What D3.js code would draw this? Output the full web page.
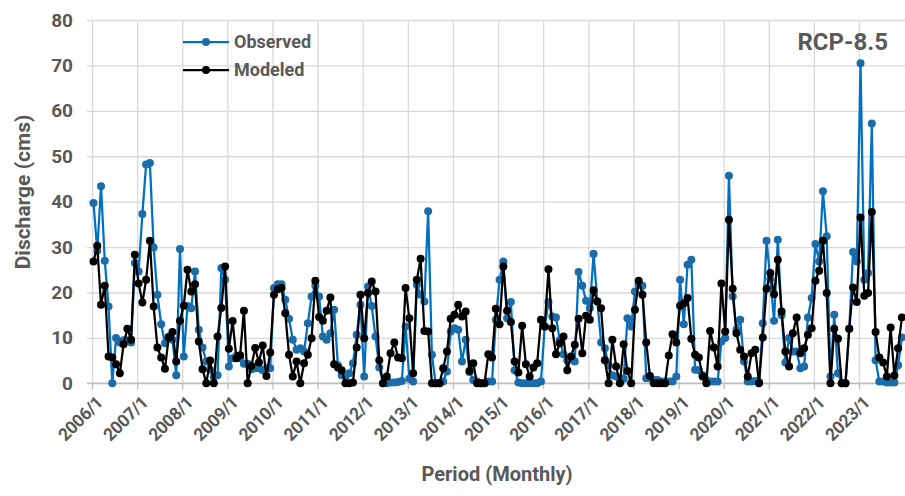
<!DOCTYPE html>
<html>
<head>
  <meta charset="utf-8">
  <title>Discharge RCP-8.5</title>
  <script src="https://cdn.jsdelivr.net/npm/d3@7"></script>
  <style>
    body { margin: 0; background: #fff; }
    text { font-family: "Roboto", "Liberation Sans", sans-serif; font-weight: bold; fill: #595959; }
  </style>
</head>
<body>
<svg id="chart"></svg>
<script>
// monthly values, one row per year 2006..2023
var observed = [
  39.7, 29.2, 43.4, 27, 16.9, 0, 10, 9, 9.5, 9.5, 9, 26.5,
  24.6, 37.3, 48.2, 48.5, 29.9, 19.5, 13, 8.8, 10.3, 9.6, 1.8, 29.6,
  5.9, 17, 16.5, 24.6, 11.8, 7.9, 4.8, 3, 1.4, 1.8, 25.4, 22.8,
  3.7, 5.5, 6, 5.5, 4.3, 4.3, 3.1, 3.3, 3.3, 2.9, 3.3, 3.3,
  21, 21.8, 21.8, 18.4, 14.2, 9.6, 7.4, 7.7, 7, 13.2, 19.1, 21.5,
  19.1, 10.3, 9.6, 11, 16.2, 4, 1.8, 1.5, 2.2, 4.4, 10.7, 17.3,
  1.5, 21.3, 17, 10.3, 3.5, 0, 0, 0.2, 0.2, 0.3, 0.5, 12.5,
  1, 0.4, 21.7, 19.5, 18, 37.9, 6.3, 0, 0, 0.4, 2.6, 11.4,
  12.1, 11.8, 4.8, 9.6, 2.5, 0.7, 0.4, 0, 0, 0.4, 0.4, 14,
  22.8, 26.8, 14.3, 17.9, 2.9, 0.2, 0, 0, 0, 0, 0, 0.4,
  12.5, 17.9, 14.7, 14.5, 9.5, 6.4, 5, 5.5, 4.8, 24.5, 21.5, 18.2,
  16.5, 28.5, 18, 9, 7.7, 4, 1.8, 1.5, 1.1, 1, 14.3, 12.5,
  20.2, 21.7, 21.5, 1.1, 1.1, 0.7, 0.7, 0.4, 0.4, 0.4, 0.4, 1.5,
  22.8, 13, 26.1, 27.2, 3, 2.9, 1.8, 0.7, 0.4, 0.4, 0.4, 9.2,
  10, 45.7, 19.1, 11.8, 14, 4.8, 0.4, 0.4, 0.5, 0.3, 13.2, 31.4,
  23, 13.8, 31.6, 15, 4.6, 10, 7, 7, 3.3, 3.7, 14.5, 18.8,
  30.7, 26.8, 42.3, 32.4, 1.5, 15.1, 2.2, 0, 0, 12, 28.9, 26.8,
  70.5, 22.8, 24.3, 57.2, 5.1, 0.4, 0.4, 0.2, 0.2, 0.2, 4, 10.1
];
var modeled = [
  26.8, 30.3, 17.3, 21.5, 5.9, 5.7, 4.2, 2.2, 8.6, 12, 9.6, 28.3,
  22, 17.8, 22.8, 31.4, 16.9, 7.9, 5.7, 3.2, 10.1, 11.3, 4.8, 13.8,
  17.1, 25, 20.2, 21.8, 9.2, 3.1, 0, 5, 0, 10.3, 16.6, 25.7,
  7.6, 13.7, 5.5, 6.2, 16, 0, 3.8, 7.8, 4.6, 8.3, 1.6, 6.8,
  19.5, 20.7, 21, 15.4, 6.3, 1.5, 4.8, 0, 4.4, 6.3, 9.9, 22.6,
  14.6, 13.8, 16, 18.9, 4.2, 3.5, 2.9, 0, 0, 0.2, 7.9, 19.5,
  9.9, 19.9, 22.4, 20.2, 5.1, 0, 1.5, 6.6, 9, 5.7, 5.5, 21,
  14.3, 2.2, 22.8, 27.4, 11.5, 11.4, 0, 0, 0, 3.3, 7, 14.2,
  15.1, 17.3, 14.7, 15.8, 2.7, 4.4, 0, 0, 0, 6.4, 5.7, 16.4,
  13, 25.7, 16, 13.5, 4.8, 2.4, 12.7, 4.2, 1.5, 3.5, 4.4, 14,
  12.5, 25.1, 12.1, 6.4, 8.8, 10.3, 2.9, 5.9, 8.5, 14.2, 6.6, 14.9,
  14, 20.5, 18, 16.5, 5.1, 0, 9.6, 3.7, 0, 8.6, 2.7, 0,
  16.2, 22.6, 19.5, 9, 1.6, 0, 0, 0, 0, 6.1, 10.8, 9,
  17.1, 17.6, 18.8, 9.8, 6.3, 5.7, 1.5, 0, 11.5, 7.9, 3.7, 22,
  11.4, 36, 20.8, 11, 7.4, 5.9, 1.5, 6.6, 7.4, 0, 10.1, 20.8,
  24.3, 19.6, 27.2, 15.8, 7, 3.7, 11, 14.5, 6.6, 7.7, 10.7, 12.1,
  22.6, 24.8, 31.4, 19.9, 0, 12, 9.8, 0, 0, 12, 21.1, 17.9,
  36.5, 19.3, 19.9, 37.7, 11.3, 5.7, 4.6, 1.5, 12.3, 1.7, 7.7, 14.5
];
var years = d3.range(2006, 2024);
var tickLabels = years.map(function(y) { return y + "/1"; });
var yTicks = [0, 10, 20, 30, 40, 50, 60, 70, 80];

var width = 905, height = 496;
var svg = d3.select("#chart").attr("width", width).attr("height", height);

var x = d3.scaleLinear().domain([0, observed.length - 1]).range([93.5, 901.9]);
var y = d3.scaleLinear().domain([0, 80]).range([383.3, 20]);

// horizontal gridlines + y labels
var yAxis = d3.axisLeft(y).tickValues(yTicks).tickSize(-(905 - 87)).tickPadding(14);
var gy = svg.append("g").attr("transform", "translate(87,0)").call(yAxis);
gy.select(".domain").remove();
gy.selectAll(".tick line").attr("stroke", "#d9d9d9").attr("stroke-width", 1.3);
gy.selectAll(".tick text").style("font-size", "19px").attr("fill", "#595959");

// vertical year gridlines
svg.append("g").selectAll("line").data(years).join("line")
  .attr("x1", function(d, i) { return x(i * 12) - 1; })
  .attr("x2", function(d, i) { return x(i * 12) - 1; })
  .attr("y1", y(80)).attr("y2", y(0))
  .attr("stroke", "#d9d9d9").attr("stroke-width", 1.3);

// x axis line, ticks, labels
svg.append("line").attr("x1", 87).attr("x2", 905).attr("y1", y(0)).attr("y2", y(0))
  .attr("stroke", "#bfbfbf").attr("stroke-width", 1.5);
svg.append("g").selectAll("line").data(years).join("line")
  .attr("x1", function(d, i) { return x(i * 12) - 1; })
  .attr("x2", function(d, i) { return x(i * 12) - 1; })
  .attr("y1", y(0)).attr("y2", y(0) + 6)
  .attr("stroke", "#bfbfbf").attr("stroke-width", 1.3);
svg.append("g").selectAll("text").data(tickLabels).join("text")
  .attr("transform", function(d, i) { return "translate(" + (x(i * 12) + 6) + "," + (y(0) + 16) + ") rotate(-45)"; })
  .attr("text-anchor", "end")
  .attr("dy", "0.35em")
  .style("font-size", "17.5px")
  .style("letter-spacing", "-0.4px")
  .text(function(d) { return d; });

// series
function drawSeries(data, lineColor, dotColor) {
  var line = d3.line().x(function(d, i) { return x(i); }).y(function(d) { return y(d); });
  var g = svg.append("g");
  g.append("path").datum(data).attr("d", line)
    .attr("fill", "none").attr("stroke", lineColor).attr("stroke-width", 2.25)
    .attr("stroke-linejoin", "round");
  g.selectAll("circle").data(data).join("circle")
    .attr("cx", function(d, i) { return x(i); })
    .attr("cy", function(d) { return y(d); })
    .attr("r", 4)
    .attr("fill", dotColor);
}
drawSeries(observed, "#0070C0", "#1B6CA8");
drawSeries(modeled, "#000000", "#000000");

// legend
var legend = [
  { name: "Observed", line: "#0070C0", dot: "#1B6CA8" },
  { name: "Modeled", line: "#000000", dot: "#000000" }
];
var lg = svg.append("g").selectAll("g").data(legend).join("g")
  .attr("transform", function(d, i) { return "translate(183," + (42 + i * 28) + ")"; });
lg.append("line").attr("x1", 0).attr("x2", 46)
  .attr("stroke", function(d) { return d.line; }).attr("stroke-width", 2.25);
lg.append("circle").attr("cx", 23).attr("r", 4).attr("fill", function(d) { return d.dot; });
lg.append("text").attr("x", 51).attr("dy", "0.35em").style("font-size", "18px")
  .text(function(d) { return d.name; });

svg.append("text").attr("x", 888).attr("y", 42).attr("dy", "0.35em")
  .attr("text-anchor", "end").style("font-size", "24px").text("RCP-8.5");

svg.append("text").attr("transform", "translate(23,192) rotate(-90)")
  .attr("text-anchor", "middle").attr("dy", "0.35em").style("font-size", "21px")
  .text("Discharge (cms)");

svg.append("text").attr("x", 497).attr("y", 481).attr("text-anchor", "middle")
  .style("font-size", "20px").text("Period (Monthly)");
</script>
</body>
</html>
